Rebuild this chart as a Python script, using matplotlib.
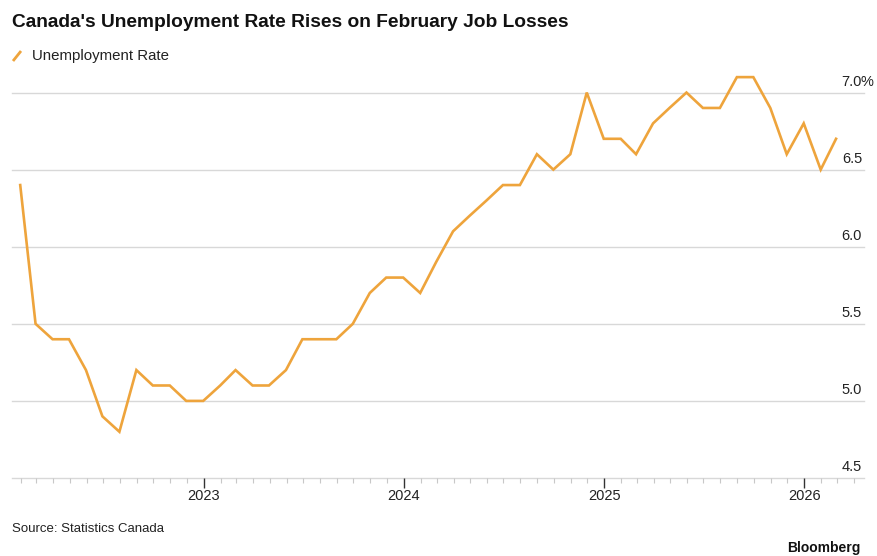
import numpy as np
import pandas as pd
import matplotlib
matplotlib.use("Agg")
import matplotlib.pyplot as plt
import matplotlib.dates as mdates
from matplotlib.transforms import blended_transform_factory, offset_copy

plt.rcParams['font.family'] = ['Liberation Sans', 'DejaVu Sans']

# Monthly unemployment rate, Jan 2022 - Feb 2026 (month-end dates)
months = pd.date_range('2022-01-31', periods=50, freq='ME')
rate_2022 = [6.4, 5.5, 5.4, 5.4, 5.2, 4.9, 4.8, 5.2, 5.1, 5.1, 5.0, 5.0]
rate_2023 = [5.1, 5.2, 5.1, 5.1, 5.2, 5.4, 5.4, 5.4, 5.5, 5.7, 5.8, 5.8]
rate_2024 = [5.7, 5.9, 6.1, 6.2, 6.3, 6.4, 6.4, 6.6, 6.5, 6.6, 7.0, 6.7]
rate_2025 = [6.7, 6.6, 6.8, 6.9, 7.0, 6.9, 6.9, 7.1, 7.1, 6.9, 6.6, 6.8]
rate_2026 = [6.5, 6.7]
rate = rate_2022 + rate_2023 + rate_2024 + rate_2025 + rate_2026

y_ticks = [4.5, 5.0, 5.5, 6.0, 6.5, 7.0]
year_labels = ['2023', '2024', '2025', '2026']

W, H = 877, 556
fig = plt.figure(figsize=(W / 100, H / 100), dpi=100)
ax = fig.add_axes([12 / W, 1 - 478 / H, (864 - 12) / W, (478 - 54) / H])

orange = '#EEA43C'
ax.plot(months, rate, color=orange, lw=1.9, solid_joinstyle='miter', zorder=3)

ax.set_xlim(pd.Timestamp('2022-01-16'), pd.Timestamp('2026-04-20'))
ax.set_ylim(4.5, 7.25)

# horizontal grid lines and right-hand labels sitting above them
for v in y_ticks:
    ax.axhline(v, color='#d8d8d8', lw=1.0, zorder=1, clip_on=False)
tr = blended_transform_factory(ax.transAxes, ax.transData)
tr = offset_copy(tr, fig=fig, x=0, y=4, units='dots')
for v in y_ticks:
    ax.text(0.9977, v, f'{v:.1f}', transform=tr, ha='right', va='bottom',
            fontsize=10.5, color='#222222')
tr_pct = offset_copy(tr, fig=fig, x=-1.5, y=0, units='dots')
ax.text(0.9977, y_ticks[-1], '%', transform=tr_pct, ha='left', va='bottom',
        fontsize=10.5, color='#222222')

for s in ax.spines.values():
    s.set_visible(False)
ax.set_yticks([])

ax.xaxis.set_minor_locator(mdates.MonthLocator())
ax.set_xticks([pd.Timestamp(f'{y}-01-01') for y in year_labels])
ax.set_xticklabels(year_labels)
ax.tick_params(axis='x', which='major', length=7, width=1.0, color='#333333',
               labelsize=10.5, labelcolor='#222222', pad=1)
ax.tick_params(axis='x', which='minor', length=3.5, width=0.8, color='#c8c8c8')

# title, legend, source, credit
fig.text(12 / W, 1 - 27 / H, "Canada's Unemployment Rate Rises on February Job Losses",
         fontsize=13.8, fontweight='bold', color='#111111', ha='left', va='baseline')
fig.add_artist(plt.Line2D([13 / W, 21 / W], [1 - 61 / H, 1 - 51 / H],
                          color=orange, lw=2.0, solid_capstyle='butt'))
fig.text(32 / W, 1 - 60 / H, 'Unemployment Rate', fontsize=10.8, color='#222222',
         ha='left', va='baseline')
fig.text(12 / W, 1 - 532 / H, 'Source: Statistics Canada', fontsize=9.5,
         color='#222222', ha='left', va='baseline')
fig.text(860 / W, 1 - 552 / H, 'Bloomberg', fontsize=10, fontweight='bold',
         color='#111111', ha='right', va='baseline')

fig.savefig('out.png', dpi=100, facecolor='white')
